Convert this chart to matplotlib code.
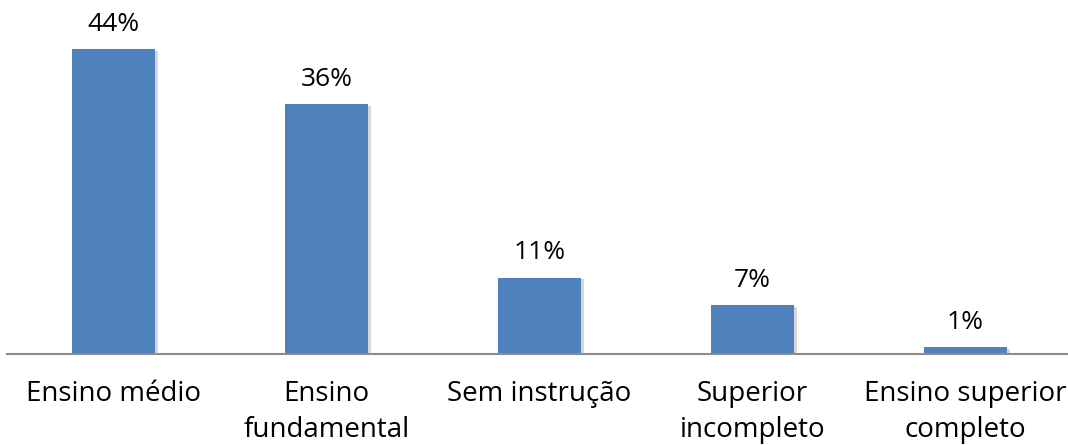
import matplotlib
matplotlib.use("Agg")
import matplotlib.pyplot as plt

# escolaridade (% of respondents)
categories = ["Ensino médio", "Ensino\nfundamental", "Sem instrução",
              "Superior\nincompleto", "Ensino superior\ncompleto"]
values = [44, 36, 11, 7, 1]
labels = ["44%", "36%", "11%", "7%", "1%"]

BAR_COLOR = "#4F81BD"
plt.rcParams["font.family"] = ["Open Sans", "DejaVu Sans"]

fig = plt.figure(figsize=(10.68, 4.45), dpi=100)
# axes in pixel terms: left edge at x=7, baseline at y=354 (from top)
ax = fig.add_axes([7 / 1068, 91 / 445, 1 - 7 / 1068, 354 / 445])

x = range(len(categories))
# soft shadow behind the bars
ax.bar([i + 0.012 for i in x], values, width=0.39, color="#d8d8d8",
       zorder=1, bottom=-0.25)
bars = ax.bar(x, values, width=0.39, color=BAR_COLOR, zorder=2)

for b, lab in zip(bars, labels):
    ax.annotate(lab, (b.get_x() + b.get_width() / 2, b.get_height()),
                xytext=(0, 9), textcoords="offset points",
                ha="center", va="bottom", fontsize=19, color="black")

ax.set_xlim(-0.5, -0.5 + 1061 / 213)
ax.set_ylim(0, 354 / (305 / 44))
ax.set_xticks(list(x))
ax.set_xticklabels(categories, fontsize=20, linespacing=1.38)
ax.tick_params(axis="x", length=0, pad=19)
ax.set_yticks([])

for s in ["top", "right", "left"]:
    ax.spines[s].set_visible(False)
ax.spines["bottom"].set_color("#8c8c8c")
ax.spines["bottom"].set_linewidth(1.5)
ax.spines["bottom"].set_zorder(3)

fig.savefig("out.png", dpi=100)
